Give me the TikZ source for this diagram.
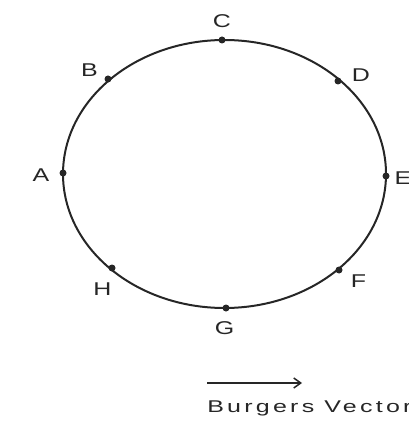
\documentclass[tikz,border=0pt]{standalone}
\usepackage{fontspec}
\setmainfont{Liberation Sans}
\newfontfamily\widefont[LetterSpace=13]{Liberation Sans}
\usetikzlibrary{arrows.meta}
\begin{document}
\begin{tikzpicture}[x=1pt,y=-1pt,
  loop/.style={draw=black!85,line width=2pt},
  pt/.style={circle,fill=black!85,inner sep=0pt,minimum size=7pt},
  lbl/.style={font=\fontsize{18.5}{18.5}\selectfont,text=black!85,xscale=1.35,inner sep=0pt},
  vec/.style={draw=black!85,line width=1.5pt,-{Straight Barb[length=7pt,width=10pt,line width=1.5pt]}}]
\useasboundingbox (0,0) rectangle (408,427);
\draw[loop] (224.5,174) ellipse [x radius=161.5pt, y radius=134pt];
\node[pt] (pA) at (63,173) {};
\node[pt] (pB) at (108,79) {};
\node[pt] (pC) at (222,40) {};
\node[pt] (pD) at (338,81) {};
\node[pt] (pE) at (386,176) {};
\node[pt] (pF) at (339,270) {};
\node[pt] (pG) at (226,308) {};
\node[pt] (pH) at (112,268) {};
\node[lbl] (lA) at (41,175.5) {A};
\node[lbl] (lB) at (89.5,70) {B};
\node[lbl] (lC) at (222,21.5) {C};
\node[lbl] (lD) at (361,75) {D};
\node[lbl] (lE) at (403,178) {E};
\node[lbl] (lF) at (358.5,281.5) {F};
\node[lbl] (lG) at (224.5,328) {G};
\node[lbl] (lH) at (102.5,289.5) {H};
\coordinate (v0) at (207,383);
\coordinate (v1) at (302,383);
\draw[vec] (v0) -- (v1);
\node[font=\widefont\fontsize{17}{17}\selectfont,text=black!85,anchor=base west,xscale=1.47,inner sep=0pt] (bv) at (207,412) {Burgers Vector};
\end{tikzpicture}
\end{document}
